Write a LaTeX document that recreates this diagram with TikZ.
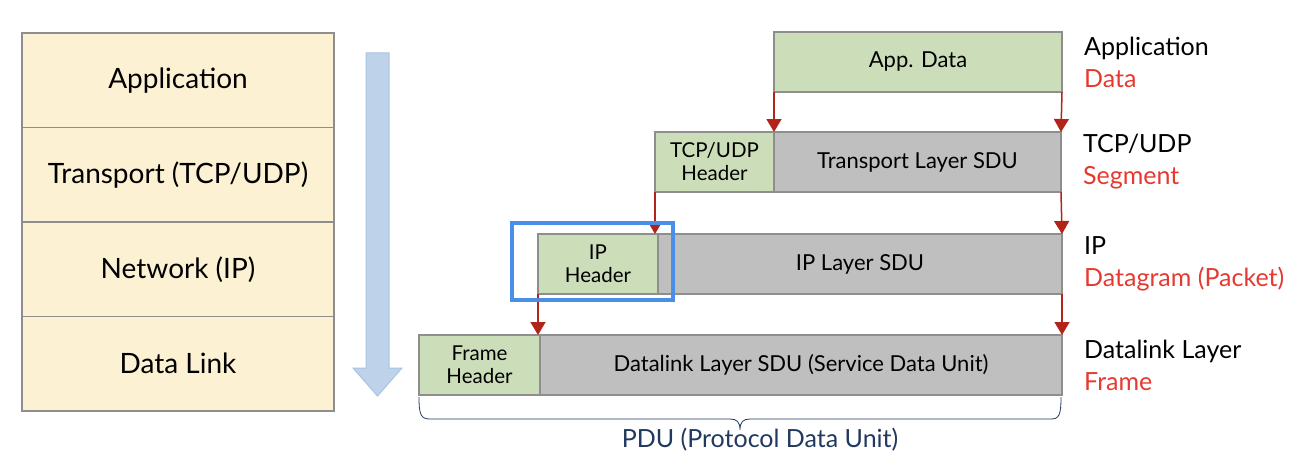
\documentclass[tikz,border=0pt]{standalone}
\usepackage{fontspec}
\setmainfont{Lato}
\usetikzlibrary{positioning,arrows.meta}

\definecolor{layerfill}{HTML}{FCF1D3}
\definecolor{boxline}{HTML}{8E8E8E}
\definecolor{hdrfill}{HTML}{CCDEB9}
\definecolor{sdufill}{HTML}{BFBFBF}
\definecolor{arrowred}{HTML}{B2241A}
\definecolor{labelred}{HTML}{E6392F}
\definecolor{downfill}{HTML}{BED3EA}
\definecolor{downline}{HTML}{A8C3E3}
\definecolor{markblue}{HTML}{4A8FE7}
\definecolor{pdunavy}{HTML}{22395F}

\tikzset{
	layer/.style={draw=boxline, fill=layerfill, line width=1.2pt, minimum width=312pt, minimum height=94.5pt, inner sep=0pt, outer sep=0pt, font=\fontsize{28}{32}\selectfont},
	hdr/.style={draw=boxline, fill=hdrfill, line width=1.2pt, minimum height=60pt, inner sep=0pt, outer sep=0pt, align=center, font=\fontsize{20.5}{23}\selectfont},
	sdu/.style={hdr, fill=sdufill, font=\fontsize{22}{25}\selectfont},
	pdu arrow/.style={-{Triangle[width=15pt,length=13pt]}, draw=arrowred, line width=1.5pt},
	pdu label/.style={align=left, anchor=west, inner sep=0pt, font=\fontsize{25}{32}\selectfont},
}

\begin{document}
\begin{tikzpicture}[x=1pt, y=-1pt]
	\useasboundingbox (0,0) rectangle (1290,460);

	% layer stack
	\foreach \i/\name in {0/{Application},1/{Transport (TCP/UDP)},2/{Network (IP)},3/{Data Link}}
	\node[layer, anchor=north west] (layer\i) at (22,33+94.5*\i) {\name};

	% downward arrow
	\draw[draw=downline, fill=downfill, line width=1pt] (366,53) -- (389,53) -- (389,368) -- (402,368) -- (377.5,396) -- (353,368) -- (366,368) -- cycle;

	% encapsulation
	\node[hdr, anchor=north west, minimum width=288pt, font=\fontsize{22}{25}\selectfont] (app) at (774,32) {App. Data};

	\node[hdr, anchor=north west, minimum width=119pt] (tcph) at (655,132) {TCP/UDP\\Header};
	\node[sdu, right=0pt of tcph, minimum width=287pt] (tcps) {Transport Layer SDU};

	\node[hdr, anchor=north west, minimum width=120pt] (iph) at (538,234) {IP\\Header};
	\node[sdu, right=0pt of iph, minimum width=404pt] (ips) {IP Layer SDU};

	\node[hdr, anchor=north west, minimum width=121pt] (frh) at (419,335) {Frame\\Header};
	\node[sdu, right=0pt of frh, minimum width=522pt] (frs) {Datalink Layer SDU (Service Data Unit)};

	\draw[pdu arrow] (app.south west) -- (app.south west |- tcps.north);
	\draw[pdu arrow] (app.south east) -- (tcps.north east);
	\draw[pdu arrow] (tcph.south west) -- (tcph.south west |- ips.north);
	\draw[pdu arrow] (tcps.south east) -- (ips.north east);
	\draw[pdu arrow] (iph.south west) -- (iph.south west |- frs.north);
	\draw[pdu arrow] (ips.south east) -- (frs.north east);

	% highlighted header
	\draw[markblue, line width=4pt] ([shift={(-26,-11)}]iph.north west) rectangle ([shift={(15,6)}]iph.south east);

	% names per layer
	\node[pdu label, right=22pt of app] (applabel) {Application\\\textcolor{labelred}{Data}};
	\node[pdu label, right=22pt of tcps] (tcplabel) {TCP/UDP\\\textcolor{labelred}{Segment}};
	\node[pdu label, right=22pt of ips] (iplabel) {IP\\\textcolor{labelred}{Datagram (Packet)}};
	\node[pdu label, right=22pt of frs] (frlabel) {Datalink Layer\\\textcolor{labelred}{Frame}};

	% brace
	\draw[pdunavy, line width=0.8pt] (419,397) .. controls (419,415) and (421,419) .. (430,419) -- (730,419) .. controls (737,419) and (740,422) .. (740,430) .. controls (740,422) and (743,419) .. (750,419) -- (1051,419) .. controls (1059,419) and (1061,415) .. (1061,397);
	\node[pdunavy, font=\fontsize{25}{28}\selectfont] (pdu) at (760,440) {PDU (Protocol Data Unit)};
\end{tikzpicture}
\end{document}
